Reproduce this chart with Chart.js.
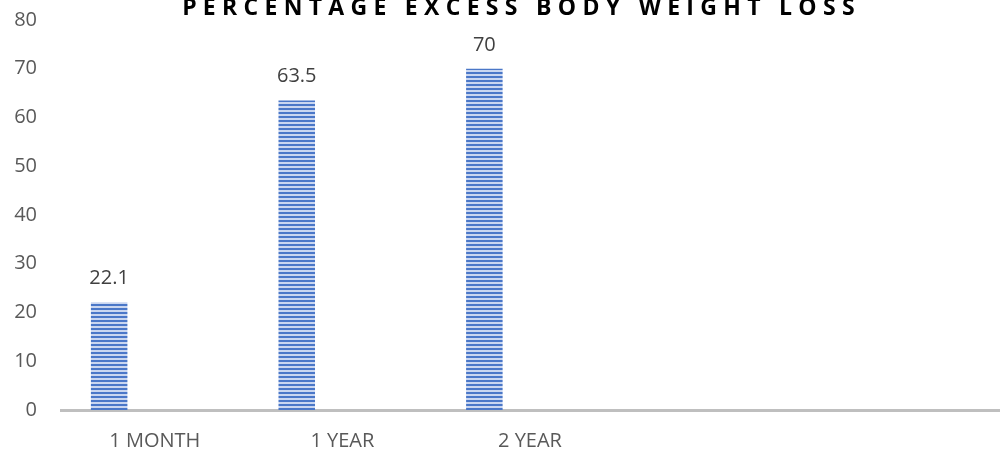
<!DOCTYPE html>
<html>
<head>
<meta charset="utf-8">
<title>Percentage Excess Body Weight Loss</title>
<script src="https://cdn.jsdelivr.net/npm/chart.js@4/dist/chart.umd.min.js"></script>
<style>
  html, body { margin: 0; padding: 0; background: #ffffff; }
  #wrap { width: 1003px; height: 454px; }
</style>
</head>
<body>
<div id="wrap"><canvas id="chart" width="1003" height="454"></canvas></div>
<script>
// Follow-up periods (the last two slots are left empty on the axis)
const categories = ['1 MONTH', '1 YEAR', '2 YEAR', '', ''];
// %EBWL at each follow-up
const ebwlValues = [22.1, 63.5, 70, null, null];
// Unused series slots that share each category with the EBWL bar
const spareSeriesA = [null, null, null, null, null];
const spareSeriesB = [null, null, null, null, null];
// Value axis
const yMin = 0;
const yMax = 80;
const yStep = 10;

const titleText = 'PERCENTAGE EXCESS BODY WEIGHT LOSS';
const fontFamily = '"Open Sans", "Liberation Sans", sans-serif';

// Horizontal striped fill for the bars
function stripedFill() {
  const tile = document.createElement('canvas');
  tile.width = 4;
  tile.height = 4;
  const t = tile.getContext('2d');
  t.fillStyle = '#c9d6f0';
  t.fillRect(0, 0, 4, 4);
  t.fillStyle = '#4a77c8';
  t.fillRect(0, 0, 4, 2);
  return document.getElementById('chart').getContext('2d').createPattern(tile, 'repeat');
}

// Spaced, bold heading drawn across the top edge
const headingPlugin = {
  id: 'heading',
  afterDraw(chart) {
    const ctx = chart.ctx;
    ctx.save();
    ctx.font = 'bold 23px ' + fontFamily;
    ctx.fillStyle = '#000000';
    ctx.textAlign = 'center';
    ctx.textBaseline = 'alphabetic';
    if ('letterSpacing' in ctx) ctx.letterSpacing = '6.3px';
    ctx.fillText(titleText, 521.5, 15);
    ctx.restore();
  }
};

// Value labels above each bar
const valueLabelPlugin = {
  id: 'valueLabels',
  afterDatasetsDraw(chart) {
    const ctx = chart.ctx;
    const meta = chart.getDatasetMeta(0);
    const values = chart.data.datasets[0].data;
    ctx.save();
    ctx.font = '20px ' + fontFamily;
    ctx.fillStyle = '#404040';
    ctx.textAlign = 'center';
    ctx.textBaseline = 'alphabetic';
    meta.data.forEach((bar, i) => {
      const v = values[i];
      if (v === null || v === undefined) return;
      ctx.fillText(String(v), bar.x, bar.y - 18);
    });
    ctx.restore();
  }
};

new Chart(document.getElementById('chart'), {
  type: 'bar',
  data: {
    labels: categories,
    datasets: [
      { label: '%EBWL', data: ebwlValues, backgroundColor: stripedFill(), borderWidth: 0 },
      { label: 'Series 2', data: spareSeriesA, backgroundColor: 'rgba(0,0,0,0)', borderWidth: 0 },
      { label: 'Series 3', data: spareSeriesB, backgroundColor: 'rgba(0,0,0,0)', borderWidth: 0 }
    ]
  },
  options: {
    responsive: false,
    devicePixelRatio: 1,
    animation: false,
    categoryPercentage: 0.73,
    barPercentage: 0.8,
    layout: { padding: { top: 20, right: 4, bottom: 0, left: 0 } },
    plugins: {
      legend: { display: false },
      title: { display: false },
      tooltip: { enabled: false }
    },
    scales: {
      x: {
        grid: { display: false, drawTicks: false },
        border: { display: true, color: '#bfbfbf', width: 3 },
        ticks: {
          autoSkip: false,
          maxRotation: 0,
          padding: 19,
          color: '#595959',
          font: { family: fontFamily, size: 20 }
        },
        afterFit(scale) { scale.height = 44; }
      },
      y: {
        min: yMin,
        max: yMax,
        grid: { display: false, drawTicks: false },
        border: { display: false },
        ticks: {
          stepSize: yStep,
          padding: 24,
          color: '#595959',
          font: { family: fontFamily, size: 20 }
        },
        afterFit(scale) {
          scale.width = 61;
          scale.paddingTop = 0;
          scale.paddingBottom = 0;
        }
      }
    }
  },
  plugins: [headingPlugin, valueLabelPlugin]
});
</script>
</body>
</html>
